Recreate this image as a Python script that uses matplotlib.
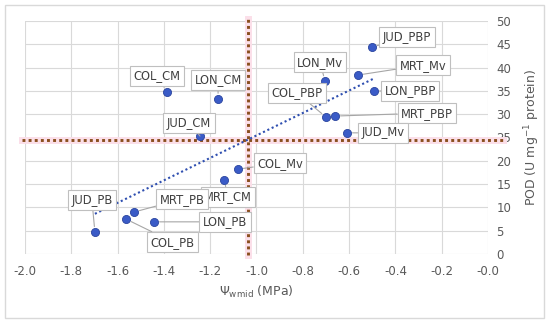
import matplotlib
matplotlib.use("Agg")
import matplotlib.pyplot as plt
import numpy as np
from matplotlib.patches import Rectangle

# site_treatment labels, midday water potential (MPa) and POD activity
labels = ["COL_CM", "LON_CM", "JUD_CM", "JUD_PBP", "LON_Mv", "MRT_Mv",
          "LON_PBP", "COL_PBP", "MRT_PBP", "JUD_Mv", "COL_Mv", "MRT_CM",
          "JUD_PB", "MRT_PB", "LON_PB", "COL_PB"]
psi = [-1.387, -1.166, -1.244, -0.501, -0.704, -0.562,
       -0.492, -0.700, -0.661, -0.609, -1.080, -1.140,
       -1.698, -1.529, -1.443, -1.564]
pod = [34.8, 33.3, 25.3, 44.4, 37.1, 38.4,
       35.0, 29.4, 29.6, 26.0, 18.2, 15.9,
       4.7, 9.0, 6.9, 7.5]

psi_thr = -1.035
pod_thr = 24.5

# label offsets (pixels) from each point
offs = [(-10, 16), (0, 19), (-11, 13), (35, 10), (-5, 19), (65, 10),
        (36, 0), (-29, 24), (92, 3), (36, 0), (42, 6), (4, -17),
        (-3, 32), (48, 13), (71, 0), (47, -23)]

grey = "#595959"

fig = plt.figure(figsize=(5.5, 3.24), dpi=100)
fig.patches.append(Rectangle((5/550, 1-318/324), 539/550, 313/324,
                             transform=fig.transFigure, fill=False,
                             ec="#d9d9d9", lw=1))
ax = fig.add_axes((25/550, 1-254/324, 463/550, 233/324))

ax.set_xlim(-2.0, 0.0)
ax.set_ylim(0, 50)
ax.set_xticks(np.arange(-2.0, 0.01, 0.2))
ax.set_xticklabels(["%.1f" % v for v in np.arange(-2.0, 0.01, 0.2)])
ax.set_yticks(range(0, 51, 5))
ax.yaxis.tick_right()
ax.yaxis.set_label_position("right")
ax.grid(True, color="#d9d9d9", lw=0.8)
ax.set_axisbelow(True)
for s in ax.spines.values():
    s.set_visible(False)
ax.tick_params(length=0, colors=grey, labelsize=8.5)
ax.tick_params(axis="x", pad=8)
ax.tick_params(axis="y", pad=6)

ax.set_xlabel(r"$\mathit{\Psi}_{\mathrm{wmid}}$ (MPa)", color=grey, fontsize=9)
ax.set_ylabel(r"POD (U mg$^{-1}$ protein)", color=grey, fontsize=9, labelpad=8)

# threshold lines
ax.plot([-2.013, 0.065], [pod_thr, pod_thr], color="#fbdfe9", lw=5, clip_on=False, zorder=1)
ax.plot([psi_thr, psi_thr], [-0.3, 50.4], color="#fbdfe9", lw=5, clip_on=False, zorder=1)
ax.plot([-2.013, 0.065], [pod_thr, pod_thr], color="#8a4f1e", lw=2.1,
        ls=(0, (1, 1.1)), clip_on=False, zorder=2)
ax.plot([psi_thr, psi_thr], [-0.3, 50.4], color="#8a4f1e", lw=2.1,
        ls=(0, (1, 1.1)), clip_on=False, zorder=2)

# linear trend
k, b = np.polyfit(psi, pod, 1)
xt = np.array([min(psi), max(psi)])
ax.plot(xt, k * xt + b, color="#2f4fb0", lw=1.5, ls=(0, (1, 1.3)), zorder=3)

ax.scatter(psi, pod, s=34, color="#3a5bc7", edgecolor="#2a449e", lw=0.6, zorder=4)

for lab, x, y, (dx, dy) in zip(labels, psi, pod, offs):
    ax.annotate(lab, (x, y), xytext=(dx, dy), textcoords="offset pixels",
                ha="center", va="center", fontsize=8.3, color="#404040",
                bbox=dict(boxstyle="square,pad=0.3", fc="white", ec="#bfbfbf", lw=0.8),
                arrowprops=dict(arrowstyle="-", color="#a6a6a6", lw=0.8,
                                shrinkA=0, shrinkB=4),
                zorder=5)

fig.savefig("out.png", dpi=100)
